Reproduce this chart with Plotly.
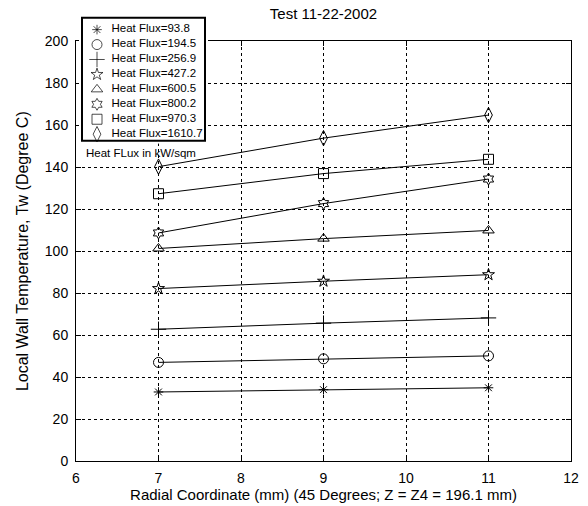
import plotly.graph_objects as go

radial_mm = [7, 9, 11]
heat_flux = ["93.8", "194.5", "256.9", "427.2", "600.5", "800.2", "970.3", "1610.7"]
tw_93_8 = [32.9, 34.0, 34.9]
tw_194_5 = [47.0, 48.7, 50.1]
tw_256_9 = [62.8, 65.7, 68.2]
tw_427_2 = [82.2, 85.7, 88.8]
tw_600_5 = [101.3, 106.0, 109.9]
tw_800_2 = [108.7, 122.7, 134.4]
tw_970_3 = [127.4, 137.0, 143.8]
tw_1610_7 = [140.3, 153.9, 164.9]
series = [tw_93_8, tw_194_5, tw_256_9, tw_427_2, tw_600_5, tw_800_2, tw_970_3, tw_1610_7]
symbols = ["asterisk-open", "circle-open", "cross-thin-open", "star-open",
           "triangle-up-open", "hexagram-open", "square-open", "diamond-tall-open"]
sizes = [8, 10, 11, 9, 10, 9, 10, 11]

x_ticks = [6, 7, 8, 9, 10, 11, 12]
y_ticks = [0, 20, 40, 60, 80, 100, 120, 140, 160, 180, 200]

FONT = "Liberation Sans, Arial, Helvetica, sans-serif"
W, H = 588, 506
PL, PR, PT, PB = 76, 571, 34, 461          # plot area in pixels
LEG_L, LEG_R, LEG_T, LEG_B = 82, 205, 10, 135  # legend box in pixels
PAD = 3
ROW0, ROWH = 22, 15.2                      # legend rows

fig = go.Figure()
for name, ys, sym, sz in zip(heat_flux, series, symbols, sizes):
    fig.add_trace(go.Scatter(
        x=radial_mm, y=ys, mode="lines+markers", showlegend=False,
        name="Heat Flux=" + name,
        line=dict(color="black", width=1),
        marker=dict(symbol=sym, size=sz, color="black",
                    line=dict(color="black", width=1))))

# legend drawn on its own small overlay axes
legend_rows = list(range(len(heat_flux)))
legend_labels = ["Heat Flux=" + h for h in heat_flux]
fig.add_trace(go.Scatter(
    x=[15] * len(heat_flux), y=legend_rows, mode="markers",
    xaxis="x2", yaxis="y2", showlegend=False, hoverinfo="skip",
    marker=dict(symbol=symbols, size=sizes, color="black",
                line=dict(color="black", width=1))))
fig.add_trace(go.Scatter(
    x=[29.5] * len(heat_flux), y=legend_rows, mode="text",
    xaxis="x2", yaxis="y2", showlegend=False, hoverinfo="skip",
    text=legend_labels, textposition="middle right",
    textfont=dict(family=FONT, size=11.5, color="black")))

pw = PR - PL


def row_units(px):
    return (px - ROW0) / ROWH


axis_common = dict(
    showline=True, linecolor="black", linewidth=1, mirror="ticks",
    ticks="inside", ticklen=5, tickcolor="black", ticklabelstandoff=4,
    showgrid=True, gridcolor="black", gridwidth=1, griddash="3px,3px",
    zeroline=False,
    tickfont=dict(family=FONT, size=14, color="black"),
)

fig.update_layout(
    xaxis=dict(range=[6, 12], tickvals=x_ticks, domain=[0, 1],
               title=dict(text="Radial Coordinate (mm) (45 Degrees; Z = Z4 = 196.1 mm)",
                          font=dict(family=FONT, size=15, color="black"), standoff=4),
               **axis_common),
    yaxis=dict(range=[0, 200], tickvals=y_ticks, domain=[0, (PB - PT) / PB],
               title=dict(text="Local Wall Temperature, Tw (Degree C)",
                          font=dict(family=FONT, size=16, color="black"), standoff=12),
               **axis_common),
    xaxis2=dict(range=[-PAD, LEG_R - LEG_L + PAD],
                domain=[(LEG_L - PAD - PL) / pw, (LEG_R + PAD - PL) / pw],
                visible=False, fixedrange=True, anchor="y2"),
    yaxis2=dict(range=[row_units(LEG_B + PAD), row_units(LEG_T - PAD)],
                domain=[(PB - LEG_B - PAD) / PB, (PB - LEG_T + PAD) / PB],
                visible=False, fixedrange=True, anchor="x2"),
    shapes=[dict(type="rect", xref="x2", yref="y2", layer="below",
                 x0=0, x1=LEG_R - LEG_L,
                 y0=row_units(LEG_B), y1=row_units(LEG_T),
                 fillcolor="white", line=dict(color="black", width=2))],
    width=W, height=H,
    margin=dict(l=PL, r=W - PR, t=0, b=H - PB),
    paper_bgcolor="white", plot_bgcolor="white",
    title=dict(text="Test 11-22-2002", x=(PL + PR) / 2 / W, xanchor="center",
               y=1 - 14 / H, yanchor="middle",
               font=dict(family=FONT, size=15, color="black")),
    showlegend=False,
)

fig.add_annotation(x=6.788, y=146.6, xref="x", yref="y", text="Heat FLux in kW/sqm",
                   showarrow=False, xanchor="center", yanchor="middle",
                   font=dict(family=FONT, size=11.5, color="black"))

fig.write_html("out.html", config={"displayModeBar": False},
               post_script="document.body.style.margin='0';")
